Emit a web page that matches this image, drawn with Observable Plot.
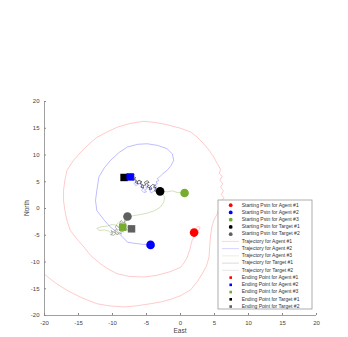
<!DOCTYPE html>
<html><head><meta charset="utf-8">
<script src="https://cdn.jsdelivr.net/npm/d3@7"></script>
<script src="https://cdn.jsdelivr.net/npm/@observablehq/plot@0.6"></script>
<style>html,body{margin:0;padding:0;background:#fff;} #chart svg{display:block}</style>
</head><body><div id="chart"></div>
<script>
const xTicks = [-20, -15, -10, -5, 0, 5, 10, 15, 20];
const yTicks = [-20, -15, -10, -5, 0, 5, 10, 15, 20];
const seriesNames = ["Agent #1", "Agent #2", "Agent #3", "Target #1", "Target #2"];
const seriesColors = ["#ff0000", "#0000ff", "#77ac30", "#000000", "#606060"];

const agent1X = [2.0, 2.3, 2.6, 2.9, 2.6, 2.1, 1.7, 1.4, 1.0, 0.5, 0, -1.5, -3.5, -5.4, -7.5, -9.3, -10.8, -11.8, -13.2, -14.2, -15.3, -16.2, -16.7, -17.0, -17.2, -17.2, -17.0, -16.7, -15.8, -14.7, -13.5, -12.3, -10.8, -9.3, -7.4, -5.4, -3.9, -2.5, -1.5, 0, 1.5, 2.5, 3.4, 4.2, 4.9, 5.4, 5.9, 5.7, 6.1, 5.8, 6.2, 5.9, 6.3, 6.0, 6.4, 6.0, 5.8, 5.4, 4.9, 4.6, 4.4, 4.3, 4.2, 3.8, 3.2, 2.5, 1.5, 0, -1.5, -3.0, -4.4, -6.5, -8.3, -10.5, -12.3, -14.5, -16.7, -18.5, -20.1, -21.5];
const agent1Y = [-4.5, -3.8, -3.3, -3.6, -4.2, -5.0, -6.0, -7.5, -9.1, -10.2, -11, -11.8, -12.5, -12.8, -12.7, -12.2, -11.2, -10.3, -8.8, -7.2, -5.6, -4.1, -2.2, -0.4, 1.5, 3.4, 5.3, 7.1, 8.9, 10.5, 12.0, 13.3, 14.3, 15.2, 15.9, 16.3, 16.1, 15.8, 15.5, 15.0, 14.3, 13.3, 12.1, 10.9, 9.6, 8.4, 7.3, 6.6, 6.0, 5.3, 4.6, 4.0, 3.3, 2.6, 2.0, 1.4, 0.5, -1.0, -2.2, -3.5, -5.4, -7.0, -9.1, -10.8, -12.2, -13.6, -15.2, -16.3, -17.0, -17.5, -17.8, -18.2, -18.4, -18.2, -17.8, -16.7, -15.3, -13.8, -12.2, -11.0];

const agent2X = [-4.4, -5.5, -6.8, -7.8, -8.6, -9.5, -10.3, -11.2, -12.3, -12.5, -12.3, -12.0, -11.2, -10.3, -9.0, -7.8, -6.3, -4.9, -3.4, -2.0, -1.2, -1.0, -1.4, -2.0, -2.6, -3.0, -3.4, -3.2, -3.6, -3.4, -3.8, -3.5, -3.9, -3.6, -4.0, -4.3, -4.5, -4.2, -4.6, -4.4, -4.8, -5.1, -4.9, -5.3, -5.0, -5.4, -5.7, -5.5, -5.9, -5.6, -6.0, -5.7, -6.1, -6.4, -6.2, -6.6, -6.8, -6.5, -6.9, -6.6, -7.0, -6.7, -7.1, -7.4, -7.2, -7.6, -7.3, -7.7, -7.5, -7.4];
const agent2Y = [-6.8, -6.7, -6.5, -6.3, -5.2, -4.2, -3.5, -2.2, -0.4, 1.5, 3.4, 5.9, 7.6, 9.0, 10.5, 11.5, 12.0, 12.1, 11.8, 11.2, 10.2, 9.0, 8.0, 7.1, 6.5, 6.0, 5.6, 5.2, 5.0, 4.6, 4.4, 4.0, 3.8, 3.4, 3.2, 2.9, 3.3, 3.6, 3.8, 4.2, 4.4, 4.1, 3.7, 3.5, 3.1, 3.0, 3.4, 3.8, 4.0, 4.4, 4.6, 4.9, 5.2, 4.9, 4.5, 4.3, 4.7, 5.1, 5.3, 5.6, 5.8, 6.2, 6.4, 6.6, 6.1, 6.0, 5.6, 5.5, 5.9, 5.9];

const agent3X = [0.6, -0.5, -1.2, -2.0, -2.7, -3.0, -2.6, -2.3, -2.5, -3.0, -3.8, -5.0, -6.2, -7.2, -7.9, -8.3, -8.1, -8.6, -8.9, -9.2, -9.5, -10.1, -10.8, -11.6, -12.3, -12.0, -11.2, -10.6, -10.2, -9.8, -9.5, -9.1, -9.3, -8.9, -9.1, -8.7, -8.9, -8.4, -8.6, -8.2, -8.5];
const agent3Y = [2.9, 3.0, 3.3, 3.1, 3.3, 3.2, 2.8, 2.0, 1.1, 0.2, -0.4, -0.9, -1.2, -1.4, -1.7, -2.1, -2.5, -2.7, -2.4, -2.8, -3.1, -3.0, -3.3, -3.4, -3.7, -4.1, -4.0, -4.2, -4.6, -4.3, -4.8, -4.5, -4.0, -3.8, -3.3, -3.1, -2.8, -2.9, -3.3, -3.4, -3.5];

const target1X = [-3.0, -3.3, -3.1, -3.5, -3.4, -3.8, -3.6, -4.0, -3.7, -4.1, -4.4, -4.2, -4.6, -4.5, -4.9, -4.7, -5.0, -4.6, -4.9, -5.3, -5.1, -5.5, -5.4, -5.8, -5.6, -6.0, -5.7, -6.1, -6.4, -6.2, -6.6, -6.5, -6.9, -6.6, -7.0, -6.8, -7.2, -7.4, -7.1, -7.5, -7.7, -7.5, -7.9, -8.1, -7.8, -8.3];
const target1Y = [3.2, 3.5, 3.8, 3.6, 3.1, 3.3, 3.9, 4.0, 4.3, 4.5, 4.1, 3.7, 3.5, 3.9, 4.0, 4.4, 4.7, 4.9, 5.2, 4.9, 4.4, 4.3, 3.8, 4.0, 4.5, 4.7, 5.0, 5.3, 5.0, 4.6, 4.8, 5.3, 5.5, 5.8, 6.0, 6.4, 6.3, 5.9, 5.6, 5.4, 5.8, 6.2, 6.3, 5.9, 5.6, 5.8];

const target2X = [-7.8, -8.1, -7.9, -8.3, -8.1, -8.5, -8.7, -8.9, -8.6, -9.0, -8.8, -9.2, -9.4, -9.6, -9.3, -9.7, -9.5, -9.9, -10.2, -10.0, -10.3, -9.8, -9.6, -9.2, -9.0, -8.7, -8.8, -8.4, -8.6, -8.2, -8.4, -8.0, -7.8, -8.0, -7.6, -7.4, -7.7, -7.3, -7.2];
const target2Y = [-1.5, -1.9, -2.2, -2.4, -2.8, -2.6, -2.2, -2.6, -3.0, -3.2, -3.6, -3.5, -3.1, -3.5, -3.9, -4.1, -4.5, -4.4, -4.1, -4.7, -4.9, -5.0, -4.7, -4.9, -4.5, -4.8, -4.2, -4.4, -3.9, -3.7, -3.3, -3.1, -3.5, -3.9, -4.1, -3.7, -3.3, -3.5, -3.8];

const startX = [2.0, -4.4, 0.6, -3.0, -7.8];
const startY = [-4.5, -6.8, 2.9, 3.2, -1.5];
const endX = [-21.5, -7.4, -8.5, -8.3, -7.2];
const endY = [-11.0, 5.9, -3.5, 5.8, -3.8];

const trajX = [agent1X, agent2X, agent3X, target1X, target2X];
const trajY = [agent1Y, agent2Y, agent3Y, target1Y, target2Y];
const lineOpacity = [0.28, 0.35, 0.45, 0.7, 0.6];

const trajs = trajX.map((xs, i) => xs.map((x, j) => ({x, y: trajY[i][j]})));
const starts = startX.map((x, i) => ({x, y: startY[i], c: seriesColors[i]}));
const endOrder = [0, 3, 4, 2, 1];
const ends = endOrder.map(i => ({x: endX[i], y: endY[i], c: seriesColors[i]}));

const W = 348, H = 337;
const chart = Plot.plot({
  width: W, height: H,
  marginLeft: 44, marginRight: 32, marginTop: 101, marginBottom: 22,
  style: {fontFamily: "'Liberation Sans', Arial, sans-serif", fontSize: "6px", color: "#444", background: "#fff"},
  x: {domain: [-20, 20]},
  y: {domain: [-20, 20]},
  marks: [
    ...trajs.map((t, i) => Plot.line(t, {x: "x", y: "y", stroke: seriesColors[i], strokeWidth: 0.75, strokeOpacity: lineOpacity[i], clip: true})),
    Plot.dot(starts, {x: "x", y: "y", fill: d => d.c, r: 4.3, clip: true}),
    Plot.dot(ends, {x: "x", y: "y", fill: d => d.c, symbol: "square", r: 4.2, clip: true}),
    Plot.ruleY([-20], {stroke: "#888", strokeWidth: 0.8}),
    Plot.ruleX([-20], {stroke: "#888", strokeWidth: 0.8}),
    Plot.axisX({ticks: xTicks, tickSize: -2, tickPadding: 7, stroke: "#888", label: null, tickFormat: d => String(d)}),
    Plot.axisY({ticks: yTicks, tickSize: -2, tickPadding: 7, stroke: "#888", label: null, tickFormat: d => String(d)})
  ]
});
document.getElementById("chart").appendChild(chart);

const svg = d3.select(chart);
svg.append("text").attr("x", 180).attr("y", 331).attr("text-anchor", "middle").attr("dominant-baseline", "middle")
  .attr("font-size", 6.5).attr("fill", "#444").text("East");
svg.append("text").attr("transform", "translate(27,208) rotate(-90)").attr("text-anchor", "middle").attr("dominant-baseline", "middle")
  .attr("font-size", 6.5).attr("fill", "#444").text("North");

// legend
const lg = svg.append("g").attr("font-size", 5).attr("fill", "#333").attr("text-anchor", "start");
lg.append("rect").attr("x", 218).attr("y", 200).attr("width", 94).attr("height", 109)
  .attr("fill", "#fff").attr("stroke", "#999").attr("stroke-width", 0.8);
const labels = [
  ...seriesNames.map(n => "Starting Pstn for " + n),
  ...seriesNames.map(n => "Trajectory for " + n),
  ...seriesNames.map(n => "Ending Point for " + n)
];
labels.forEach((t, k) => {
  const cy = 205.2 + k * 7.24;
  const i = k % 5;
  if (k < 5) {
    lg.append("circle").attr("cx", 230.7).attr("cy", cy).attr("r", 1.9).attr("fill", seriesColors[i]);
  } else if (k < 10) {
    lg.append("line").attr("x1", 222).attr("x2", 239).attr("y1", cy).attr("y2", cy)
      .attr("stroke", seriesColors[i]).attr("stroke-opacity", i < 3 ? 0.22 : 0.18).attr("stroke-width", 0.8);
  } else {
    lg.append("rect").attr("x", 229.4).attr("y", cy - 1.3).attr("width", 2.6).attr("height", 2.6).attr("fill", seriesColors[i]);
  }
  lg.append("text").attr("x", 241.7).attr("y", cy).attr("text-anchor", "start").attr("dominant-baseline", "middle").text(t);
});
</script></body></html>
